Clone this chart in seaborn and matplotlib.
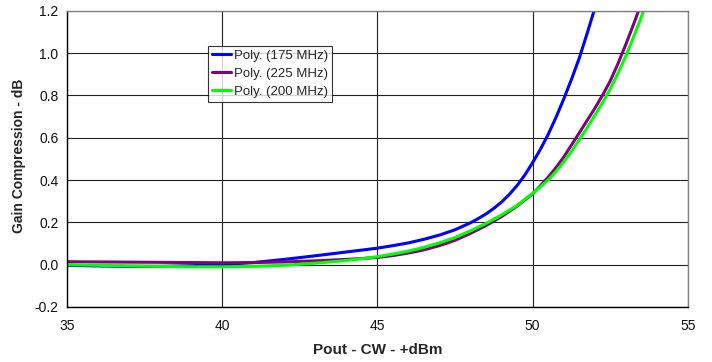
import matplotlib
matplotlib.use("Agg")
import matplotlib.pyplot as plt
import seaborn as sns

# values (Excel polynomial trendlines)
x_175 = [35, 36, 37, 38, 39, 40, 41, 42, 43, 44, 44.5, 45, 45.5, 46, 46.5, 47,
         47.5, 48, 48.25, 48.5, 48.75, 49, 49.25, 49.5, 49.75, 50, 50.25, 50.5,
         50.75, 51, 51.25, 51.5, 51.75, 52]
y_175 = [-0.003, -0.006, -0.008, -0.008, -0.005, 0.0, 0.01, 0.025, 0.042, 0.06,
         0.069, 0.078, 0.09, 0.103, 0.12, 0.14, 0.165, 0.198, 0.218, 0.24,
         0.266, 0.296, 0.332, 0.374, 0.424, 0.482, 0.545, 0.615, 0.695, 0.782,
         0.875, 0.975, 1.09, 1.21]

x_225 = [35, 36, 37, 38, 39, 40, 41, 42, 43, 44, 44.5, 45, 45.5, 46, 46.5, 47,
         47.5, 48, 48.5, 49, 49.5, 50, 50.25, 50.5, 50.75, 51, 51.25, 51.5,
         51.75, 52, 52.25, 52.5, 52.75, 53, 53.25, 53.5, 53.75]
y_225 = [0.014, 0.013, 0.012, 0.011, 0.01, 0.009, 0.01, 0.013, 0.018, 0.025,
         0.029, 0.034, 0.043, 0.055, 0.07, 0.09, 0.115, 0.148, 0.185, 0.227,
         0.277, 0.335, 0.373, 0.413, 0.458, 0.508, 0.565, 0.622, 0.68, 0.738,
         0.80, 0.868, 0.95, 1.04, 1.135, 1.235, 1.34]

x_200 = [35, 36, 37, 38, 39, 40, 41, 42, 43, 44, 44.5, 45, 45.5, 46, 46.5, 47,
         47.5, 48, 48.5, 49, 49.5, 50, 50.25, 50.5, 50.75, 51, 51.25, 51.5,
         51.75, 52, 52.25, 52.5, 52.75, 53, 53.25, 53.5, 53.75]
y_200 = [0.0, -0.003, -0.006, -0.008, -0.01, -0.01, -0.008, -0.003, 0.007, 0.02,
         0.028, 0.038, 0.05, 0.064, 0.082, 0.103, 0.128, 0.16, 0.195, 0.235,
         0.28, 0.337, 0.368, 0.40, 0.44, 0.485, 0.535, 0.59, 0.645, 0.705,
         0.765, 0.83, 0.905, 0.985, 1.075, 1.17, 1.27]

series = [
    ("Poly. (175 MHz)", x_175, y_175, "#0000FF"),
    ("Poly. (225 MHz)", x_225, y_225, "#800080"),
    ("Poly. (200 MHz)", x_200, y_200, "#00FF00"),
]

x_ticks = [35, 40, 45, 50, 55]
y_ticks = [-0.2, 0.0, 0.2, 0.4, 0.6, 0.8, 1.0, 1.2]

sns.set_style("white")
plt.rcParams["font.family"] = ["Liberation Sans", "DejaVu Sans"]

fig = plt.figure(figsize=(7.12, 3.62), dpi=100)
ax = fig.add_axes([0.094, 0.152, 0.872, 0.818])

for label, xs, ys, color in series:
    sns.lineplot(x=xs, y=ys, ax=ax, color=color, linewidth=2.2, label=label,
                 sort=False, estimator=None)

ax.set_xlim(35, 55)
ax.set_ylim(-0.2, 1.2)
ax.set_xticks(x_ticks)
ax.set_yticks(y_ticks)
ax.set_yticklabels([f"{v:.1f}" for v in y_ticks])
ax.grid(True, color="#222222", linewidth=0.8)
ax.set_axisbelow(True)

for side in ["top", "right"]:
    ax.spines[side].set_color("#808080")
for side in ["left", "bottom"]:
    ax.spines[side].set_color("black")
for sp in ax.spines.values():
    sp.set_linewidth(1.0)

ax.tick_params(axis="both", which="major", direction="out", length=4,
               width=1, color="black", labelsize=10, labelcolor="#111111")
ax.tick_params(axis="y", pad=2)
ax.tick_params(axis="x", pad=5)

ax.set_xlabel("Pout - CW - +dBm", fontsize=11, fontweight="bold", labelpad=7)
ax.set_ylabel("Gain Compression - dB", fontsize=10, fontweight="bold")
ax.yaxis.set_label_coords(-0.066, 0.512)

leg = ax.legend(loc="upper left", bbox_to_anchor=(0.227, 0.883), fontsize=9.5,
                frameon=True, fancybox=False, edgecolor="black",
                handlelength=1.45, handletextpad=0.2, borderpad=0.3,
                labelspacing=0.45, borderaxespad=0)
leg.get_frame().set_linewidth(0.8)

fig.savefig("out.png", dpi=100)
